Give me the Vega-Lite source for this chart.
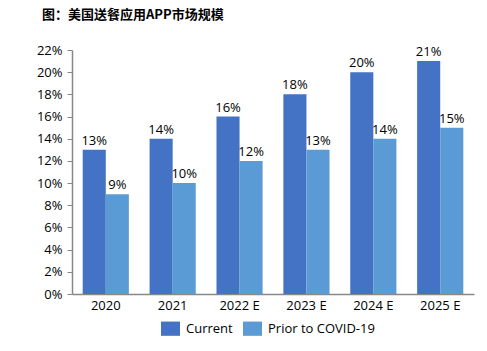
{
  "$schema": "https://vega.github.io/schema/vega-lite/v6.json",
  "width": 402,
  "height": 244,
  "autosize": {"type": "none"},
  "padding": {"left": 72, "top": 50, "right": 13, "bottom": 57},
  "background": "white",
  "title": {
    "text": "图：美国送餐应用APP市场规模",
    "anchor": "start",
    "frame": "group",
    "dx": -30,
    "offset": 22,
    "font": "Noto Sans CJK SC",
    "fontSize": 13,
    "fontWeight": "bold",
    "color": "#000000"
  },
  "config": {
    "view": {"stroke": null},
    "font": "Open Sans"
  },
  "data": {
    "values": [
      {"year": "2020", "series": "Current", "value": 0.13},
      {"year": "2020", "series": "Prior to COVID-19", "value": 0.09},
      {"year": "2021", "series": "Current", "value": 0.14},
      {"year": "2021", "series": "Prior to COVID-19", "value": 0.10},
      {"year": "2022 E", "series": "Current", "value": 0.16},
      {"year": "2022 E", "series": "Prior to COVID-19", "value": 0.12},
      {"year": "2023 E", "series": "Current", "value": 0.18},
      {"year": "2023 E", "series": "Prior to COVID-19", "value": 0.13},
      {"year": "2024 E", "series": "Current", "value": 0.20},
      {"year": "2024 E", "series": "Prior to COVID-19", "value": 0.14},
      {"year": "2025 E", "series": "Current", "value": 0.21},
      {"year": "2025 E", "series": "Prior to COVID-19", "value": 0.15}
    ]
  },
  "encoding": {
    "x": {
      "field": "year",
      "type": "nominal",
      "sort": null,
      "scale": {"paddingInner": 0.31, "paddingOuter": 0.16},
      "axis": {
        "title": null,
        "labelAngle": 0,
        "ticks": false,
        "labelPadding": 5,
        "labelFontSize": 13,
        "labelColor": "#000000",
        "domainColor": "#888888",
        "domainWidth": 1.5
      }
    },
    "xOffset": {"field": "series", "type": "nominal"},
    "y": {
      "field": "value",
      "type": "quantitative",
      "scale": {"domain": [0, 0.22], "nice": false},
      "axis": {
        "title": null,
        "format": ".0%",
        "values": [0, 0.02, 0.04, 0.06, 0.08, 0.1, 0.12, 0.14, 0.16, 0.18, 0.2, 0.22],
        "grid": false,
        "tickSize": 5,
        "tickColor": "#888888",
        "domainColor": "#888888",
        "domainWidth": 1.5,
        "labelPadding": 5,
        "labelFontSize": 13,
        "labelColor": "#000000"
      }
    }
  },
  "layer": [
    {
      "mark": {"type": "bar"},
      "encoding": {
        "color": {
          "field": "series",
          "type": "nominal",
          "scale": {"domain": ["Current", "Prior to COVID-19"], "range": ["#4472C4", "#5B9BD5"]},
          "legend": {
            "title": null,
            "orient": "none",
            "legendX": 89,
            "legendY": 269,
            "direction": "horizontal",
            "symbolType": "M-1,-0.75H1V0.75H-1Z",
            "symbolSize": 361,
            "symbolStrokeWidth": 0,
            "labelFontSize": 13,
            "labelColor": "#000000",
            "labelOffset": 6,
            "columnPadding": 10
          }
        }
      }
    },
    {
      "mark": {"type": "text", "baseline": "bottom", "dy": -2, "fontSize": 13, "color": "#000000"},
      "encoding": {
        "text": {"field": "value", "type": "quantitative", "format": ".0%"}
      }
    }
  ]
}
